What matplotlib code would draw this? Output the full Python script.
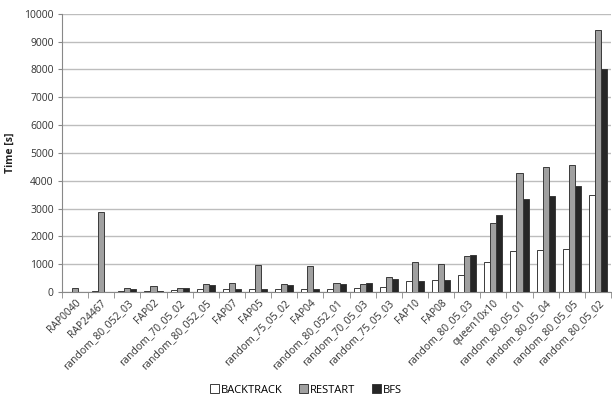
import matplotlib
matplotlib.use("Agg")
import matplotlib.pyplot as plt
from matplotlib.patches import Patch
import numpy as np

categories = ["RAP0040", "RAP24467", "random_80_052_03", "FAP02", "random_70_05_02",
              "random_80_052_05", "FAP07", "FAP05", "random_75_05_02", "FAP04",
              "random_80_052_01", "random_70_05_03", "random_75_05_03", "FAP10", "FAP08",
              "random_80_05_03", "queen10x10", "random_80_05_01", "random_80_05_04",
              "random_80_05_05", "random_80_05_02"]
backtrack = [10, 20, 50, 40, 60, 100, 120, 100, 110, 100, 120, 130, 190, 405, 430,
             595, 1070, 1475, 1525, 1550, 3480]
restart = [130, 2870, 150, 200, 140, 300, 320, 960, 280, 930, 310, 285, 535, 1070, 1000,
           1310, 2465, 4275, 4490, 4570, 9425]
bfs = [10, 10, 120, 40, 140, 250, 120, 110, 260, 110, 275, 310, 475, 405, 440,
       1330, 2760, 3335, 3450, 3800, 8000]
series_names = ["BACKTRACK", "RESTART", "BFS"]
yticks = list(range(0, 10001, 1000))

plt.rcParams['font.family'] = ['Open Sans', 'DejaVu Sans']

fig = plt.figure(figsize=(6.12, 4.07), dpi=100)
ax = fig.add_axes([62/612, 1-292/407, 549/612, (292-13.7)/407])

x = np.arange(len(categories))
w = 0.23
colors = ["#ffffff", "#a0a0a0", "#262626"]
for i, (vals, c) in enumerate(zip([backtrack, restart, bfs], colors)):
    ax.bar(x + (i-1)*w, vals, width=w, color=c, edgecolor="#3a3a3a", linewidth=0.7, zorder=3)

ax.set_xlim(-0.5, len(categories)-0.5)
ax.set_ylim(0, 10000)
ax.set_yticks(yticks)
ax.set_yticklabels([str(v) for v in yticks], fontsize=7.5, color="#333333")
ax.yaxis.grid(True, color="#bdbdbd", linewidth=1.0, zorder=0)
ax.set_axisbelow(True)
ax.tick_params(axis='y', length=3, color="#888888", pad=3)

ax.set_xticks(x)
ax.set_xticklabels(categories, rotation=45, ha="right", rotation_mode="anchor",
                   fontsize=7.5, color="#333333")
ax.set_xticks(np.arange(-0.5, len(categories), 1), minor=True)
ax.tick_params(axis='x', which='major', length=0, pad=4)
ax.tick_params(axis='x', which='minor', length=4, color="#888888")

for s in ["top", "right"]:
    ax.spines[s].set_visible(False)
for s in ["left", "bottom"]:
    ax.spines[s].set_color("#888888")
    ax.spines[s].set_linewidth(0.8)

ax.set_ylabel("Time [s]", fontsize=7.5, fontweight="bold", color="#222222", labelpad=6)

handles = [Patch(facecolor=c, edgecolor="#3a3a3a", linewidth=0.7) for c in colors]
fig.legend(handles, series_names, loc="center", bbox_to_anchor=(0.5, 1-390/407),
           ncol=3, frameon=False, fontsize=8, handlelength=0.8, handleheight=0.8,
           handletextpad=0.2, columnspacing=1.5)

fig.savefig("out.png", dpi=100)
